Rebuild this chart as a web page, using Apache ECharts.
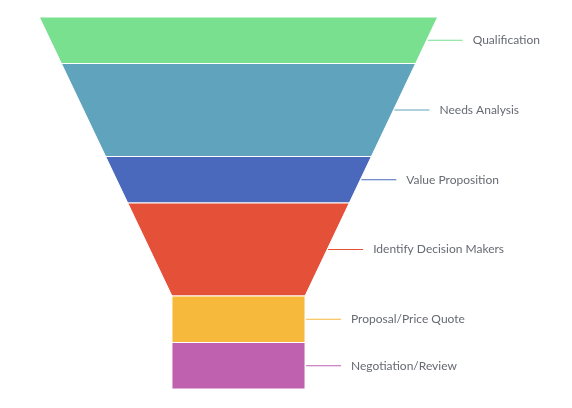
<!DOCTYPE html>
<html>
<head>
<meta charset="utf-8">
<style>
html,body{margin:0;padding:0;background:#fff;}
#chart{width:572px;height:408px;}
</style>
<script src="https://cdn.jsdelivr.net/npm/echarts@6/dist/echarts.min.js"></script>
</head>
<body>
<div id="chart"></div>
<script>
var categories = ['Qualification', 'Needs Analysis', 'Value Proposition', 'Identify Decision Makers', 'Proposal/Price Quote', 'Negotiation/Review'];
var values = [100, 200, 100, 200, 100, 100];
var colors = ['#78e08f', '#60a3bc', '#4a69bd', '#e55039', '#f6b93b', '#c061b0'];

var total = values.reduce(function (a, b) { return a + b; }, 0);
var NECK_WIDTH = 33.4;   // percent of top width
var NECK_HEIGHT = 0.25;  // fraction of total height
var neckStart = total * (1 - NECK_HEIGHT);

function halfWidth(v) {
  if (v >= neckStart) return NECK_WIDTH / 2;
  return (100 - (100 - NECK_WIDTH) * (v / neckStart)) / 2;
}

var segData = [];
var acc = 0;
for (var i = 0; i < values.length; i++) {
  segData.push([acc, acc + values[i], i]);
  acc += values[i];
}

var chart = echarts.init(document.getElementById('chart'));
chart.setOption({
  animation: false,
  grid: { left: 39.3, top: 17, width: 398.4, height: 372 },
  xAxis: { type: 'value', min: -50, max: 50, show: false },
  yAxis: { type: 'value', min: 0, max: total, inverse: true, show: false },
  series: [{
    type: 'custom',
    coordinateSystem: 'cartesian2d',
    data: segData,
    encode: { x: -1, y: [0, 1] },
    renderItem: function (params, api) {
      var s = api.value(0), e = api.value(1), idx = api.value(2);
      var pts = [];
      pts.push(api.coord([-halfWidth(s), s]));
      pts.push(api.coord([halfWidth(s), s]));
      if (s < neckStart && e > neckStart) pts.push(api.coord([halfWidth(neckStart), neckStart]));
      pts.push(api.coord([halfWidth(e), e]));
      if (s < neckStart && e > neckStart) pts.push(api.coord([-halfWidth(neckStart), neckStart]));
      pts.push(api.coord([-halfWidth(e), e]));
      var mid = (s + e) / 2;
      var edge = api.coord([halfWidth(mid), mid]);
      var color = colors[idx];
      return {
        type: 'group',
        children: [
          {
            type: 'polygon',
            shape: { points: pts },
            style: { fill: color, stroke: '#ffffff', lineWidth: 1 }
          },
          {
            type: 'line',
            shape: { x1: edge[0] + 1, y1: edge[1], x2: edge[0] + 36, y2: edge[1] },
            style: { stroke: color, lineWidth: 1 }
          },
          {
            type: 'text',
            x: edge[0] + 46,
            y: edge[1],
            style: {
              text: categories[idx],
              fill: '#666a72',
              font: '12px Lato',
              textAlign: 'left',
              textVerticalAlign: 'middle'
            }
          }
        ]
      };
    }
  }]
});
</script>
</body>
</html>
